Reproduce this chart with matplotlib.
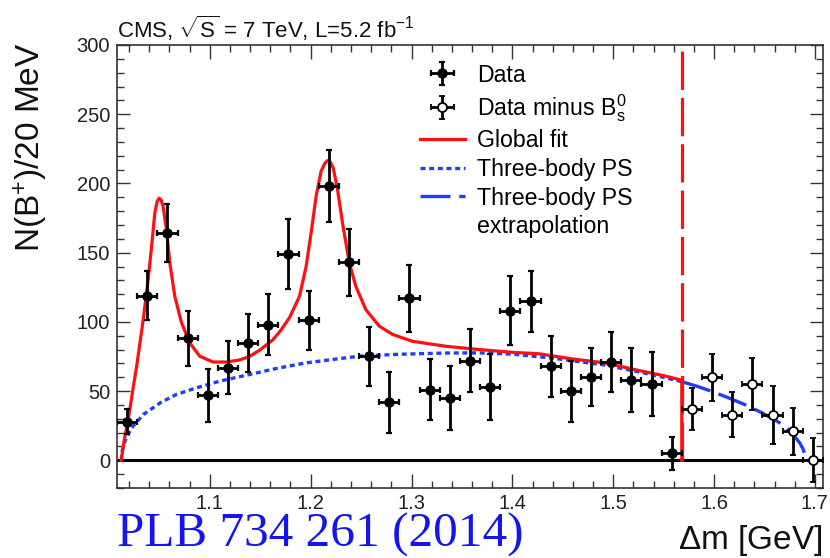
import matplotlib
matplotlib.use('Agg')
import matplotlib.pyplot as plt
from matplotlib.lines import Line2D
from matplotlib.ticker import MultipleLocator

plt.rcParams['font.family'] = ['Liberation Sans', 'DejaVu Sans']
plt.rcParams['mathtext.fontset'] = 'custom'
plt.rcParams['mathtext.rm'] = 'Liberation Sans'
plt.rcParams['mathtext.it'] = 'Liberation Sans:italic'
plt.rcParams['mathtext.bf'] = 'Liberation Sans:bold'
plt.rcParams['mathtext.sf'] = 'Liberation Sans'

# ---------------- data ----------------
data_dm = [1.018, 1.038, 1.058, 1.078, 1.098, 1.118, 1.138, 1.158, 1.178, 1.198,
           1.218, 1.238, 1.258, 1.278, 1.298, 1.318, 1.338, 1.358, 1.378, 1.398,
           1.418, 1.438, 1.458, 1.478, 1.498, 1.518, 1.538, 1.558]
data_n = [28, 119, 164, 88, 47, 67, 85, 98, 149, 101,
          198, 143, 75, 42, 117, 51, 45, 72, 53, 108,
          115, 68, 50, 60, 71, 58, 55, 5]
data_err = [9, 18, 21, 20, 19, 19, 21, 22, 25, 21,
            26, 24, 21, 22, 24, 22, 23, 23, 24, 25,
            22, 22, 22, 21, 22, 23, 23, 12]

sub_dm = [1.578, 1.598, 1.618, 1.638, 1.658, 1.678, 1.698]
sub_n = [37, 60, 33, 55, 33, 21, 0]
sub_err = [15, 17, 16, 19, 21, 17, 16]

bin_half_width = 0.01

fit_dm = [1.0122, 1.0150, 1.0192, 1.0235, 1.0275, 1.0310, 1.0340, 1.0389, 1.0423, 1.0455,
          1.0478, 1.0498, 1.0518, 1.0537, 1.0571, 1.0604, 1.0653, 1.0720, 1.0801, 1.0900,
          1.1032, 1.1164, 1.1295, 1.1394, 1.1493, 1.1625, 1.1700, 1.1790, 1.1890, 1.1955,
          1.2004, 1.2054, 1.2103, 1.2140, 1.2168, 1.2195, 1.2224, 1.2267, 1.2316, 1.2382,
          1.2448, 1.2547, 1.2679, 1.2810, 1.3008, 1.3337, 1.3670, 1.4000, 1.4259, 1.4588,
          1.4917, 1.5247, 1.5510, 1.5680, 1.5680]
fit_n = [0, 14, 29.6, 50, 68, 86, 101.7, 130.5, 154.5, 178.6,
         187, 189.4, 188, 183.3, 166.5, 142.5, 118.5, 99.3, 84.9, 75.2,
         71, 71, 72.5, 75, 79.5, 87, 93.5, 103, 118.5, 140,
         164, 190.6, 208.6, 214.5, 216.5, 215.5, 211, 195.4, 171.4, 143,
         125.7, 108.9, 97, 91, 86, 82.4, 80, 78, 77, 73.3,
         70.4, 65, 61, 57.8, 0]

ps_dm = [1.0122, 1.0130, 1.0160, 1.0200, 1.0240, 1.0340, 1.0510, 1.0670, 1.0870, 1.1100,
         1.1394, 1.1670, 1.1955, 1.2268, 1.2480, 1.2876, 1.3337, 1.3670, 1.4000, 1.4400,
         1.4588, 1.4917, 1.5247, 1.5510, 1.5680]
ps_n = [0, 6.5, 14, 20, 24.7, 33, 41.6, 47.6, 52.4, 57.2,
        62, 66.5, 70.4, 73.3, 75.2, 76.6, 77.5, 77.6, 76.7, 73.8,
        72, 68.8, 64, 59.8, 56.8]

ext_dm = [1.5680, 1.5830, 1.5970, 1.6130, 1.6300, 1.6470, 1.6630, 1.6720, 1.6796, 1.6850,
          1.6880, 1.6905, 1.6915]
ext_n = [56.8, 53.5, 50, 45.5, 40.4, 34.5, 28, 23.5, 17.5, 12.5,
         8.5, 3.5, 0]

fit_range_max = 1.568
x_min, x_max = 1.008, 1.708
y_min, y_max = -20, 300

x_major = [1.1, 1.2, 1.3, 1.4, 1.5, 1.6, 1.7]
x_labels = ['1.1', '1.2', '1.3', '1.4', '1.5', '1.6', '1.7']
y_major = [0, 50, 100, 150, 200, 250, 300]
y_labels = ['0', '50', '100', '150', '200', '250', '300']

# ---------------- figure ----------------
W, H = 830, 558
fig = plt.figure(figsize=(W / 100, H / 100), dpi=100)
ax = fig.add_axes([117 / W, 1 - 488 / H, (823 - 117) / W, (488 - 45) / H])

red = '#ff1010'
blue = '#1f3cff'

ax.axhline(0, color='black', lw=2.2, zorder=2)

ps_line, = ax.plot(ps_dm, ps_n, color=blue, lw=2.4, ls=(0, (1.5, 1.1)), zorder=3)
fit_line, = ax.plot(fit_dm, fit_n, color=red, lw=2.3, zorder=4)
ext_line, = ax.plot(ext_dm, ext_n, color=blue, lw=2.4, ls=(0, (9.0, 2.6)), zorder=3)
ax.vlines(fit_range_max, 0, y_max, color=red, lw=2.3, linestyles=[(0, (12, 2.5))], zorder=4)

h_data = ax.errorbar(data_dm, data_n, xerr=bin_half_width, yerr=data_err, fmt='o',
                     color='black', ms=6.5, elinewidth=2.0, capsize=2.2, capthick=1.6,
                     zorder=6)
h_sub = ax.errorbar(sub_dm, sub_n, xerr=bin_half_width, yerr=sub_err, fmt='o',
                    color='black', mfc='white', mec='black', mew=1.3, ms=6.5,
                    elinewidth=2.0, capsize=2.2, capthick=1.6, zorder=6)

ax.set_xlim(x_min, x_max)
ax.set_ylim(y_min, y_max)
ax.set_xticks(x_major)
ax.set_xticklabels(x_labels)
ax.set_yticks(y_major)
ax.set_yticklabels(y_labels)
ax.xaxis.set_minor_locator(MultipleLocator(0.02))
ax.yaxis.set_minor_locator(MultipleLocator(10))
ax.tick_params(which='both', direction='in', top=True, right=True, colors='#333333',
               labelcolor='#222222', labelsize=14.5, width=1.0)
ax.tick_params(axis='x', which='major', length=10, pad=4)
ax.tick_params(axis='x', which='minor', length=5)
ax.tick_params(axis='y', which='major', length=9.5, pad=5)
ax.tick_params(axis='y', which='minor', length=5)
for sp in ax.spines.values():
    sp.set_linewidth(1.2)
    sp.set_color('#333333')

blank = Line2D([], [], color='none')
leg = ax.legend([h_data, h_sub, fit_line, ps_line, ext_line, blank],
                ['Data', r'Data minus B$_{\mathrm{s}}^{0}$', 'Global fit', 'Three-body PS',
                 'Three-body PS', 'extrapolation'],
                loc='upper left', bbox_to_anchor=(0.429, 0.958), frameon=False,
                fontsize=16.7, handlelength=1.95, handletextpad=0.5, labelspacing=0.24,
                borderpad=0, borderaxespad=0)

fig.text(117 / W, 1 - 38 / H, r'CMS, $\sqrt{\mathrm{S}}$ = 7 TeV, L=5.2 fb$^{-1}$',
         fontsize=16, ha='left', va='baseline', color='#111111')
fig.text(31 / W, 1 - 147 / H, r'N(B$^{+}$)/20 MeV', rotation=90, fontsize=24,
         ha='center', va='center', color='#111111')
fig.text(822 / W, 1 - 549 / H, r'$\Delta$m [GeV]', fontsize=24, ha='right',
         va='baseline', color='#111111')
fig.text(117 / W, 1 - 547 / H, 'PLB 734 261 (2014)', fontsize=35.5,
         family=['Liberation Serif', 'DejaVu Serif'], color='#1414f0',
         ha='left', va='baseline')

fig.savefig('out.png', dpi=100)
